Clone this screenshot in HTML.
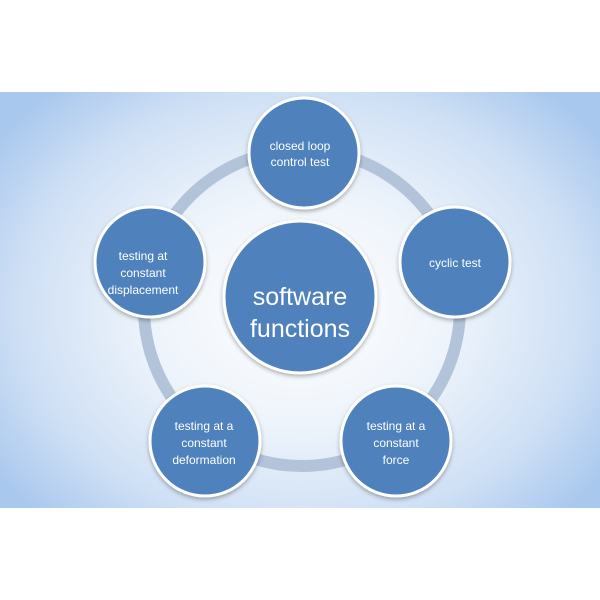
<!DOCTYPE html>
<html><head><style>
html,body{margin:0;padding:0;width:600px;height:600px;background:#fff;overflow:hidden}
.panel{position:absolute;left:0;top:92px;width:600px;height:416px;background:radial-gradient(ellipse 62% 70% at 50% 52%,#ffffff 0%,#eef4fb 40%,#cfe0f5 75%,#a9c8ee 100%)}
svg{position:absolute;left:0;top:0}
text{font-family:"Liberation Sans",sans-serif;fill:#fff;text-anchor:middle}
</style></head><body>
<div class="panel"></div>
<svg width="600" height="600" viewBox="0 0 600 600">
<defs><filter id="s" x="-20%" y="-20%" width="140%" height="140%"><feDropShadow dx="0" dy="2" stdDeviation="2" flood-color="#000" flood-opacity="0.3"/></filter></defs>
<circle cx="302" cy="308" r="158" fill="none" stroke="#b3c3da" stroke-width="12"/>
<g fill="#4f81bd" stroke="#fff" stroke-width="3" filter="url(#s)">
<circle cx="300" cy="297" r="76"/>
<circle cx="304" cy="153" r="55"/>
<circle cx="455" cy="262" r="55"/>
<circle cx="396" cy="441" r="55"/>
<circle cx="205" cy="441" r="55"/>
<circle cx="150" cy="262" r="55"/>
</g>
<text x="300" y="305" font-size="25">software</text>
<text x="300" y="337" font-size="25">functions</text>
<g font-size="12">
<text x="300" y="150">closed loop</text><text x="300" y="166">control test</text>
<text x="455" y="267">cyclic test</text>
<text x="396" y="430">testing  at a</text><text x="396" y="447">constant</text><text x="396" y="464">force</text>
<text x="204" y="430">testing at a</text><text x="204" y="447">constant</text><text x="204" y="464">deformation</text>
<text x="143" y="260">testing at</text><text x="143" y="277">constant</text><text x="143" y="294">displacement</text>
</g>
</svg>
</body></html>
